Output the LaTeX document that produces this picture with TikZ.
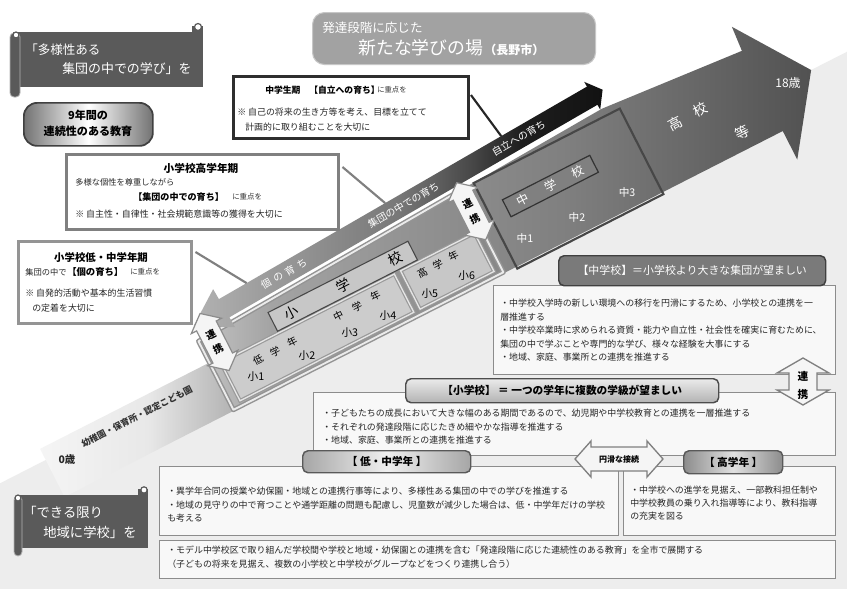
\documentclass[tikz,border=0pt]{standalone}
\usepackage{fontspec}
\setmainfont{Noto Sans CJK JP}
\usetikzlibrary{calc}
\definecolor{bnr}{HTML}{5A5A5A}
\definecolor{bgg}{HTML}{EDEDED}
\definecolor{ttlg}{HTML}{A2A2A2}
\definecolor{bxf}{HTML}{F8F8F8}
\definecolor{bxl}{HTML}{8C8C8C}
\pgfdeclarehorizontalshading{bigshade}{100bp}{color(0bp)=(black!4); color(25bp)=(black!4); color(32bp)=(black!9); color(37bp)=(black!28); color(40bp)=(black!36); color(59bp)=(black!50); color(75bp)=(black!68); color(100bp)=(black!68)}
\pgfdeclarehorizontalshading{bandshade}{100bp}{color(0bp)=(black!30); color(25bp)=(black!30); color(33bp)=(black!38); color(50bp)=(black!53); color(59bp)=(black!72); color(65bp)=(black!88); color(75bp)=(black!93); color(100bp)=(black!93)}
\newcommand{\jf}[1]{\fontsize{#1}{#1}\selectfont}
\tikzset{
  body/.style={anchor=west, inner sep=0pt, font=\fontsize{6.7}{8}\selectfont, text=black!85},
  rtxt/.style={inner sep=0pt, rotate=27},
  btxt/.style={inner sep=0pt, rotate=30, text=white, font=\fontsize{7.5}{8}\selectfont},
  infobox/.style={draw=bxl, fill=bxf, line width=1pt, inner sep=0pt, anchor=north west},
  hdrbox/.style={rounded corners=4pt, line width=1.1pt, inner sep=0pt, anchor=north west},
  chev/.style={fill=white!96!black, draw=black!45, line width=0.9pt},
  roll/.style={fill=bnr, draw=black!30, line width=0.6pt},
  conn/.style={draw=black!50, line width=1.6pt},
  curl/.style={draw=bnr, fill=white, line width=0.9pt},
  plain/.style={anchor=west, inner sep=0pt}
}
\begin{document}
\begin{tikzpicture}[x=0.75pt,y=-0.75pt]
\useasboundingbox (0,0) rectangle (847,589);
\clip (0,0) rectangle (847,589);
\fill[white] (0,0) rectangle (847,589);

% ---------- frame coordinates (27 deg) ----------
\begin{scope}[shift={(256,377)},rotate=27]
  \coordinate (G1) at (-500,-21.5);
  \coordinate (G2) at (900,-21.5);
  \coordinate (A1) at (-225,-34);
  \coordinate (A2) at (-35,-34);
  \coordinate (A3) at (-35,-58);
  \coordinate (A4) at (430,-82);
  \coordinate (A5) at (581,-70);
  \coordinate (A6) at (583,-96);
  \coordinate (A7) at (634,-21.5);
  \coordinate (A8) at (581,52);
  \coordinate (A9) at (581,20);
  \coordinate (A10) at (-225,20);
\end{scope}
\fill[bgg] (G1) -- (G2) -- (1100,800) -- (-300,800) -- cycle;
\shade[shading=bigshade] (A1) -- (A2) -- (A3) -- (A4) -- (A5) -- (A6) -- (A7) -- (A8) -- (A9) -- (A10) -- cycle;

% ---------- school frames ----------
\begin{scope}[shift={(256,377)},rotate=27]
  \draw[black!42, line width=3.6pt, line join=round] (-35,-58) -- (268,-73.6) -- (268,19) -- (-35,19) -- cycle;
  \draw[black!8, line width=1.4pt, line join=round] (-35,-58) -- (268,-73.6) -- (268,19) -- (-35,19) -- cycle;
  \draw[fill=black!20, draw=black!40, line width=2.8pt] (-25,-29) rectangle (170,14);
  \draw[draw=black!10, line width=1pt] (-25,-29) rectangle (170,14);
  \draw[fill=black!22, draw=black!40, line width=2.8pt] (177,-29) rectangle (260,14);
  \draw[draw=black!10, line width=1pt] (177,-29) rectangle (260,14);
  \draw[fill=black!22, draw=black!72, line width=0.8pt] (40,-52) rectangle (197,-31);
  \draw[black!72, line width=1.6pt] (282,-74) rectangle (446,22);
  \draw[fill=black!50, draw=black!80, line width=0.9pt] (300,-46) rectangle (398,-27);
\end{scope}

% ---------- upper band (30 deg) ----------
\begin{scope}[shift={(189.5,328.2)},rotate=30]
  \coordinate (B1) at (5,0);
  \coordinate (B2) at (40,-22);
  \coordinate (B3) at (40,-10.5);
  \coordinate (B4) at (465,-10.5);
  \coordinate (B5) at (465,-16);
  \coordinate (B6) at (477,0);
  \coordinate (B7) at (465,16);
  \coordinate (B8) at (465,10.5);
  \coordinate (B9) at (40,10.5);
  \coordinate (B10) at (40,22);
  \coordinate (cJ) at (366,-10.5);
  \coordinate (cH) at (232,-10.5);
  \coordinate (cL) at (72,-10.5);
\end{scope}
\shade[shading=bandshade] (B1) -- (B2) -- (B3) -- (B4) -- (B5) -- (B6) -- (B7) -- (B8) -- (B9) -- (B10) -- cycle;
\begin{scope}[shift={(189.5,328.2)},rotate=30]
  \node[btxt] (tko) at (109,0) {個\hspace{2.8pt}の\hspace{2.8pt}育\hspace{2.8pt}ち};
  \node[btxt] (tsh) at (247,0) {集団の中での育ち};
  \node[btxt] (tji) at (380,0) {自立への育ち};
\end{scope}

% ---------- chevrons and texts in 27 deg frame ----------
\begin{scope}[shift={(256,377)},rotate=27]
  \draw[chev] (-21,-82) -- (-4,-68) -- (-10,-68) -- (-10,-32) -- (-4,-32) -- (-21,-18) -- (-38,-32) -- (-32,-32) -- (-32,-68) -- (-38,-68) -- cycle;
  \draw[chev] (267,-82) -- (284,-68) -- (278,-68) -- (278,-32) -- (284,-32) -- (267,-18) -- (250,-32) -- (256,-32) -- (256,-68) -- (250,-68) -- cycle;
  \node[rtxt, font=\bfseries\jf{7.5}] (rl1) at (-21,-58) {連};
  \node[rtxt, font=\bfseries\jf{7.5}] (rl2) at (-21,-42) {携};
  \node[rtxt, font=\bfseries\jf{7.5}] (rr1) at (267,-58) {連};
  \node[rtxt, font=\bfseries\jf{7.5}] (rr2) at (267,-42) {携};
  % elementary label
  \node[rtxt, font=\jf{10.5}] (e1) at (61,-41) {小};
  \node[rtxt, font=\jf{10.5}] (e2) at (119.5,-41.5) {学};
  \node[rtxt, font=\jf{10.5}] (e3) at (178,-42) {校};
  % junior label
  \node[rtxt, font=\jf{9}, text=white] (j1) at (318,-36.5) {中};
  \node[rtxt, font=\jf{9}, text=white] (j2) at (349,-36.5) {学};
  \node[rtxt, font=\jf{9}, text=white] (j3) at (380,-36.5) {校};
  % grade groups
  \node[rtxt, font=\jf{7.5}] (g1) at (9.5,-14) {低};
  \node[rtxt, font=\jf{7.5}] (g2) at (28.5,-14) {学};
  \node[rtxt, font=\jf{7.5}] (g3) at (48,-14.5) {年};
  \node[rtxt, font=\jf{7.5}] (g4) at (101,-17) {中};
  \node[rtxt, font=\jf{7.5}] (g5) at (122,-17) {学};
  \node[rtxt, font=\jf{7.5}] (g6) at (143,-18) {年};
  \node[rtxt, font=\jf{7.5}] (g7) at (195.5,-17.5) {高};
  \node[rtxt, font=\jf{7.5}] (g8) at (213,-17.5) {学};
  \node[rtxt, font=\jf{7.5}] (g9) at (231,-18.5) {年};
  % grades
  \node[inner sep=0pt, font=\jf{8}] (s1) at (0,0) {小1};
  \node[inner sep=0pt, font=\jf{8}] (s2) at (55.4,3.6) {小2};
  \node[inner sep=0pt, font=\jf{8}] (s3) at (104,2.6) {小3};
  \node[inner sep=0pt, font=\jf{8}] (s4) at (145.7,4.7) {小4};
  \node[inner sep=0pt, font=\jf{8}] (s5) at (193,4.2) {小5};
  \node[inner sep=0pt, font=\jf{8}] (s6) at (234,4.9) {小6};
  \node[inner sep=0pt, font=\jf{8}, text=white] (m1) at (302.8,-1.7) {中1};
  \node[inner sep=0pt, font=\jf{8}, text=white] (m2) at (358.6,3.1) {中2};
  \node[inner sep=0pt, font=\jf{8}, text=white] (m3) at (414.6,3.6) {中3};
  % high school
  \node[rtxt, font=\jf{10.5}, text=white] (h1) at (488.6,-36) {高};
  \node[rtxt, font=\jf{10.5}, text=white] (h2) at (516.8,-36.3) {校};
  \node[rtxt, font=\jf{10.5}, text=white] (h3) at (543.8,3.2) {等};
  % kindergarten
  \node[rtxt, font=\bfseries\jf{6.6}, text=black!80] (kg) at (-124,-19) {幼稚園・保育所・認定こども園};
\end{scope}
\node[inner sep=0pt, font=\bfseries\jf{7.8}, text=black!85] (age0) at (67,460) {0歳};
\node[inner sep=0pt, font=\jf{9}, text=white] (age18) at (788,83) {18歳};

% ---------- top-left banner ----------
\fill[bnr] (13,32) rectangle (203,87);
\filldraw[roll, rounded corners=3pt] (10,33) rectangle (20,97);
\draw[curl] (16,35) circle (3);
\fill[bnr] (192,26) rectangle (203,33);
\draw[curl] (198,27) circle (3.5);
\node[plain, text=white, font=\jf{9.4}] (bt1) at (25,50) {「多様性ある};
\node[plain, text=white, font=\jf{9.7}] (bt2) at (62,69) {集団の中での学び」を};

% ---------- 9 years ----------
\node[draw=black!75, line width=1.3pt, rounded corners=10pt, left color=black!55, right color=black!55, middle color=white, minimum width=129*0.75pt, minimum height=43*0.75pt, anchor=north west] (nine) at (23,102) {};
\node[inner sep=0pt, font=\bfseries\jf{8.3}] (nine1) at (88,115) {9年間の};
\node[inner sep=0pt, font=\bfseries\jf{8.3}] (nine2) at (88,131) {連続性のある教育};

% ---------- title ----------
\node[draw=black!22, fill=ttlg, rounded corners=9pt, line width=0.8pt, minimum width=283*0.75pt, minimum height=52*0.75pt, anchor=north west, inner sep=0pt] (ttl) at (312,12) {};
\node[plain, text=white, font=\jf{9.4}] (ttl1) at (322,28) {発達段階に応じた};
\node[plain, text=white, font=\jf{13.4}] (ttl2) at (358,48) {新たな学びの場};
\node[plain, text=white, font=\bfseries\jf{9}] (ttl3) at (484,50) {（長野市）};

% ---------- junior high period box ----------
\node[draw=black!82, fill=white, line width=2.2pt, minimum width=235*0.75pt, minimum height=62*0.75pt, anchor=north west, inner sep=0pt] (jrbox) at (232,75) {};
\node[plain, font=\bfseries\jf{6.6}] (jr1) at (265,90) {中学生期\quad【自立への育ち】};
\node[plain, font=\jf{5.5}, text=black!80] (jr2) at (377,90) {に重点を};
\node[body] (jr3) at (237,112) {※\ 自己の将来の生き方等を考え、目標を立てて};
\node[body] (jr4) at (245,127) {計画的に取り組むことを大切に};
\draw[draw=black!85, line width=1.6pt] ($(jrbox.north east)+(1,20)$) -- (cJ);

% ---------- upper elementary box ----------
\node[draw=black!50, fill=white, line width=2.6pt, minimum width=272*0.75pt, minimum height=75*0.75pt, anchor=north west, inner sep=0pt] (shbox) at (65,153) {};
\node[inner sep=0pt, font=\bfseries\jf{8}] (sh1) at (201,168) {小学校高学年期};
\node[plain, font=\jf{6.2}, text=black!85] (sh2) at (75,182) {多様な個性を尊重しながら};
\node[plain, font=\bfseries\jf{6.8}] (sh3) at (133,197) {【集団の中での育ち】};
\node[plain, font=\jf{5.6}, text=black!80] (sh4) at (232,197) {に重点を};
\node[body] (sh5) at (75,214) {※\ 自主性・自律性・社会規範意識等の獲得を大切に};
\draw[conn] ($(shbox.north east)+(2,14)$) -- (cH);

% ---------- lower/middle elementary box ----------
\node[draw=black!42, fill=white, line width=2.6pt, minimum width=173*0.75pt, minimum height=82*0.75pt, anchor=north west, inner sep=0pt] (slbox) at (17,240) {};
\node[inner sep=0pt, font=\bfseries\jf{7.8}] (sl1) at (101,258) {小学校低・中学年期};
\node[plain, font=\jf{6.2}, text=black!85] (sl2) at (25,272) {集団の中で};
\node[plain, font=\bfseries\jf{7}] (sl3) at (67,272) {【個の育ち】};
\node[plain, font=\jf{5.6}, text=black!80] (sl4) at (130,272) {に重点を};
\node[body] (sl5) at (25,293) {※\ 自発的活動や基本的生活習慣};
\node[body] (sl6) at (32,308) {の定着を大切に};
\draw[conn] ($(slbox.north east)+(2,12)$) -- (cL);

% ---------- junior high info ----------
\node[infobox, minimum width=342*0.75pt, minimum height=89*0.75pt] (jbox) at (493,285) {};
\node[hdrbox, draw=black!75, fill=black!52, minimum width=267*0.75pt, minimum height=30*0.75pt] (jhdr) at (558,255) {};
\node[inner sep=0pt, text=white, font=\jf{8.2}] (jhdrt) at (jhdr.center) {【中学校】＝小学校より大きな集団が望ましい};
\node[body] (jb1) at (500,303) {・中学校入学時の新しい環境への移行を円滑にするため、小学校との連携を一};
\node[body] (jb2) at (500,317) {層推進する};
\node[body] (jb3) at (500,330) {・中学校卒業時に求められる資質・能力や自立性・社会性を確実に育むために、};
\node[body] (jb4) at (500,344) {集団の中で学ぶことや専門的な学び、様々な経験を大事にする};
\node[body] (jb5) at (500,357) {・地域、家庭、事業所との連携を推進する};

% ---------- elementary info ----------
\node[infobox, minimum width=522*0.75pt, minimum height=63*0.75pt] (sbox) at (313,392) {};
\node[body] (sb1) at (322,413) {・子どもたちの成長において大きな幅のある期間であるので、幼児期や中学校教育との連携を一層推進する};
\node[body] (sb2) at (322,427) {・それぞれの発達段階に応じたきめ細やかな指導を推進する};
\node[body] (sb3) at (322,440) {・地域、家庭、事業所との連携を推進する};

% renkei vertical arrow
\coordinate (V1) at (803,358);
\draw[chev, draw=black!50, line width=1pt] (V1) -- (829,373) -- (817,373) -- (817,390) -- (829,390) -- (803,405) -- (777,390) -- (789,390) -- (789,373) -- (777,373) -- cycle;
\node[inner sep=0pt, font=\bfseries\jf{8}] (rv1) at (803,376) {連};
\node[inner sep=0pt, font=\bfseries\jf{8}] (rv2) at (803,394) {携};

\node[hdrbox, draw=black!70, top color=black!8, bottom color=black!30, minimum width=313*0.75pt, minimum height=24*0.75pt] (shdr) at (405,378) {};
\node[inner sep=0pt, font=\bfseries\jf{8}] (shdrt) at (shdr.center) {【小学校】\ ＝\ 一つの学年に複数の学級が望ましい};

% ---------- lower boxes ----------
\node[infobox, minimum width=459*0.75pt, minimum height=69*0.75pt] (lbox) at (159,466) {};
\node[infobox, minimum width=212*0.75pt, minimum height=69*0.75pt] (hbox) at (623,466) {};
\node[body] (lb1) at (167,491) {・異学年合同の授業や幼保園・地域との連携行事等により、多様性ある集団の中での学びを推進する};
\node[body] (lb2) at (167,505) {・地域の見守りの中で育つことや通学距離の問題も配慮し、児童数が減少した場合は、低・中学年だけの学校};
\node[body] (lb3) at (167,518) {も考える};
\node[body] (hb1) at (630,490) {・中学校への進学を見据え、一部教科担任制や};
\node[body] (hb2) at (630,503) {中学校教員の乗り入れ指導等により、教科指導};
\node[body] (hb3) at (630,516) {の充実を図る};

\node[hdrbox, draw=black!65, left color=black!35, right color=black!35, middle color=black!6, minimum width=168*0.75pt, minimum height=22*0.75pt] (lhdr) at (302,450) {};
\node[inner sep=0pt, font=\bfseries\jf{8}] (lhdrt) at (lhdr.center) {【\ 低・中学年\ 】};
\node[hdrbox, draw=black!65, left color=black!45, right color=black!45, middle color=black!12, minimum width=99*0.75pt, minimum height=23*0.75pt] (hhdr) at (683,450) {};
\node[inner sep=0pt, font=\bfseries\jf{8}] (hhdrt) at (hhdr.center) {【\ 高学年\ 】};

% smooth connection arrow
\coordinate (S1) at (575,459);
\draw[chev, draw=black!50, line width=1pt] (S1) -- (591,441) -- (591,447) -- (647,447) -- (647,441) -- (663,459) -- (647,477) -- (647,471) -- (591,471) -- (591,477) -- cycle;
\node[inner sep=0pt, font=\bfseries\jf{6}] (smt) at (619,459) {円滑な接続};

\node[infobox, minimum width=676*0.75pt, minimum height=38*0.75pt] (botbox) at (159,540) {};
\node[body] (bb1) at (167,550) {・モデル中学校区で取り組んだ学校間や学校と地域・幼保園との連携を含む「発達段階に応じた連続性のある教育」を全市で展開する};
\node[body] (bb2) at (167,564) {（子どもの将来を見据え、複数の小学校と中学校がグループなどをつくり連携し合う）};

% ---------- bottom-left banner ----------
\fill[bnr] (17,495) rectangle (148,548);
\filldraw[roll, rounded corners=3pt] (14,496) rectangle (22,556);
\draw[curl] (18,498) circle (3);
\fill[bnr] (138,489) rectangle (148,496);
\draw[curl] (144,490) circle (3.2);
\node[plain, text=white, font=\jf{10}] (lb1t) at (23,512) {「できる限り};
\node[plain, text=white, font=\jf{10}] (lb2t) at (43,532) {地域に学校」を};
\end{tikzpicture}
\end{document}
